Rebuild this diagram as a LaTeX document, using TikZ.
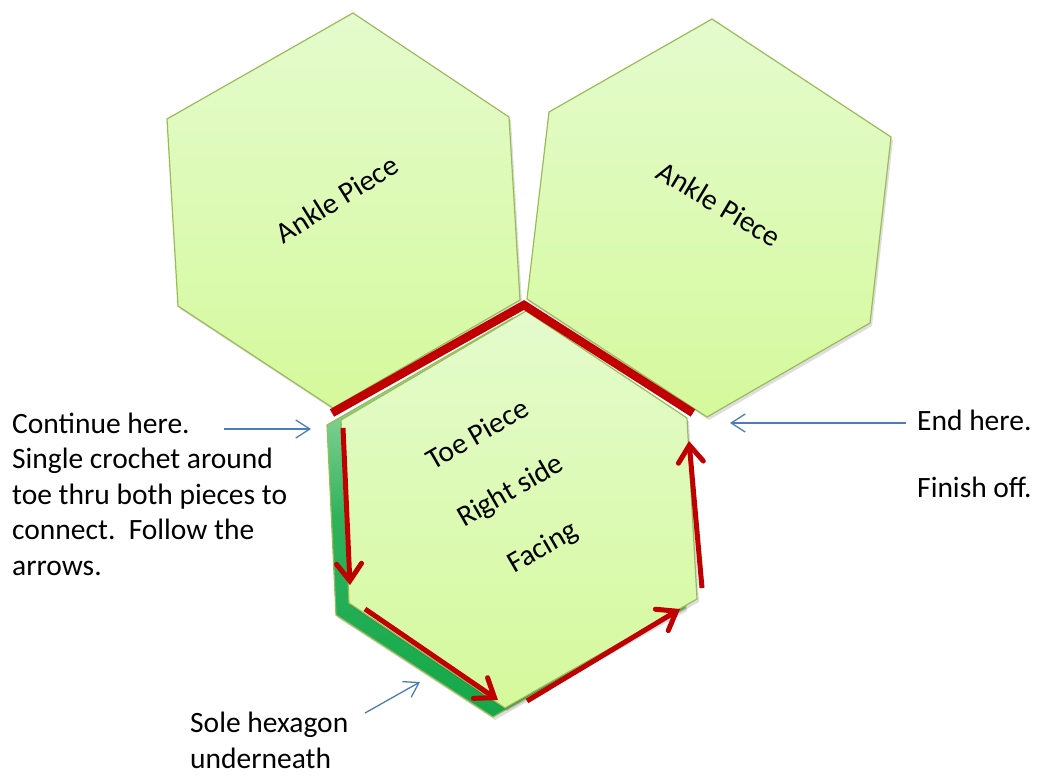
\documentclass[tikz,border=0pt]{standalone}
\usepackage{fontspec}
\setmainfont{Carlito}
\usetikzlibrary{arrows.meta}
\definecolor{hexTop}{HTML}{E4FBCD}
\definecolor{hexBot}{HTML}{D5F99C}
\definecolor{hexLine}{HTML}{9BBB59}
\definecolor{soleTop}{HTML}{C8EDC4}
\definecolor{soleBot}{HTML}{14A84A}
\definecolor{redline}{HTML}{C00000}
\definecolor{bluearrow}{HTML}{4A7EBB}
\tikzset{
  hexa/.style={draw=hexLine, line width=1.2pt, line join=round, top color=hexTop, bottom color=hexBot,
    preaction={fill=black, opacity=0.13, transform canvas={shift={(2pt,-3pt)}}}},
  solehex/.style={draw=hexLine, line width=1.2pt, line join=round, top color=soleTop, bottom color=soleBot, middle color=soleBot!85!soleTop,
    preaction={fill=black, opacity=0.13, transform canvas={shift={(2pt,-3pt)}}}},
  redarrow/.style={draw=redline, line width=5pt, -{Straight Barb[length=17pt, width=25pt, line cap=round]}},
  bluearr/.style={draw=bluearrow, line width=1.3pt, -{Straight Barb[length=14pt, width=18pt]}},
  lab/.style={font=\fontsize{29.5}{35.5}\selectfont, inner sep=0pt, text=black}
}
\begin{document}
\begin{tikzpicture}[x=1pt,y=-1pt]
\useasboundingbox (0,0) rectangle (1049,776);
% sole hexagon underneath
\path[solehex] (513,318) -- (675,425) -- (685,608) -- (493,717) -- (336,615) -- (327,425) -- cycle;
% ankle pieces
\path[hexa] (353,13) -- (509,117) -- (520,300) -- (333,408) -- (178,306) -- (167,119) -- cycle;
\path[hexa] (712,19) -- (891,137) -- (870,323) -- (707,417) -- (527,299) -- (549,112) -- cycle;
% toe piece
\path[hexa] (526,311) -- (687,418) -- (697,599) -- (505,708) -- (349,603) -- (341,420) -- cycle;
% joining seam
\coordinate (s1) at (332,413);
\coordinate (s2) at (524,305);
\coordinate (s3) at (693,413);
\draw[redline, line width=8.5pt, line join=miter] (s1) -- (s2) -- (s3);
% red direction arrows
\coordinate (r1a) at (343,428);
\coordinate (r1b) at (350,585);
\coordinate (r2a) at (365,609);
\coordinate (r2b) at (498,700);
\coordinate (r3a) at (527,701);
\coordinate (r3b) at (680,609);
\coordinate (r4a) at (702,588);
\coordinate (r4b) at (689,441);
\draw[redarrow] (r1a) -- (r1b);
\draw[redarrow] (r2a) -- (r2b);
\draw[redarrow] (r3a) -- (r3b);
\draw[redarrow] (r4a) -- (r4b);
% texts
\node[lab, rotate=32] (ankL) at (337,199) {Ankle Piece};
\node[lab, rotate=-31] (ankR) at (719,204) {Ankle Piece};
\node[lab, rotate=30, align=center, font=\fontsize{29.5}{65}\selectfont] (toe) at (511,492) {Toe Piece\\Right side\\Facing};
\node[lab, anchor=base west, align=left] (cont) at (12,575) {Continue here.\\Single crochet around\\toe thru both pieces to\\connect.\ \ Follow the\\arrows.};
\node[lab, anchor=base west, align=left] (endt) at (917,497) {End here.\\[31pt]Finish off.};
\node[lab, anchor=base west, align=left] (sole) at (190,768) {Sole hexagon\\underneath};
% blue pointer arrows
\coordinate (b1a) at (224,429);
\coordinate (b1b) at (311,429);
\coordinate (b2a) at (906,423);
\coordinate (b2b) at (730,423);
\coordinate (b3a) at (365,713);
\coordinate (b3b) at (420,682);
\draw[bluearr] (b1a) -- (b1b);
\draw[bluearr] (b2a) -- (b2b);
\draw[bluearr] (b3a) -- (b3b);
\end{tikzpicture}
\end{document}
